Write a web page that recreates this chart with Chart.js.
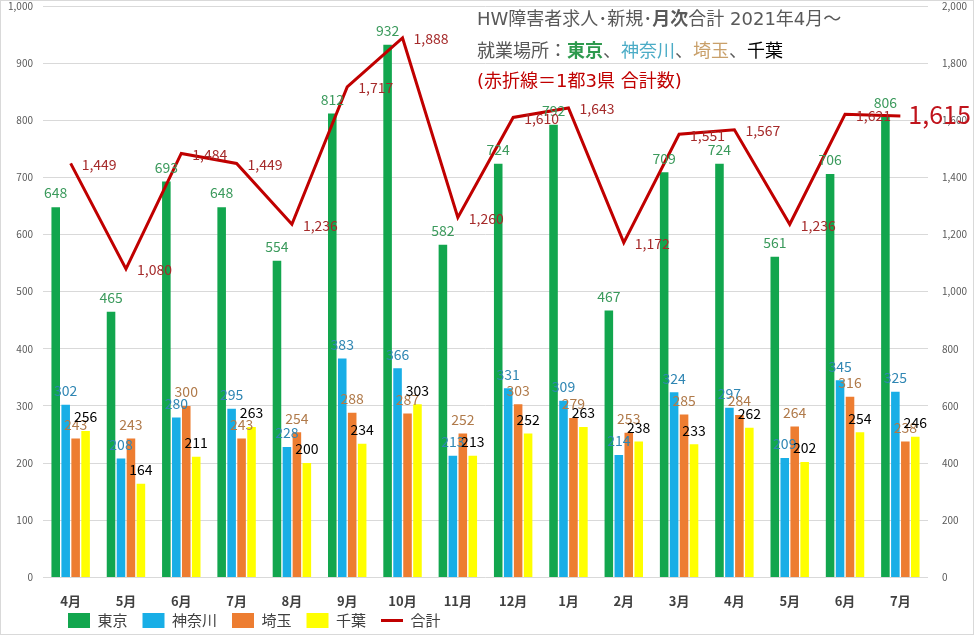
<!DOCTYPE html>
<html>
<head>
<meta charset="utf-8">
<script src="https://cdn.jsdelivr.net/npm/chart.js@4"></script>
<style>
html,body{margin:0;padding:0;background:#fff;}
#wrap{position:relative;width:974px;height:635px;}
canvas{display:block;}
</style>
</head>
<body>
<div id="wrap"><canvas id="c" width="974" height="635"></canvas></div>
<script>
const categories = ['4月','5月','6月','7月','8月','9月','10月','11月','12月','1月','2月','3月','4月','5月','6月','7月'];
const tokyo    = [648,465,693,648,554,812,932,582,724,792,467,709,724,561,706,806];
const kanagawa = [302,208,280,295,228,383,366,213,331,309,214,324,297,209,345,325];
const saitama  = [243,243,300,243,254,288,287,252,303,279,253,285,284,264,316,238];
const chiba    = [256,164,211,263,200,234,303,213,252,263,238,233,262,202,254,246];
const total    = [1449,1080,1484,1449,1236,1717,1888,1260,1610,1643,1172,1551,1567,1236,1621,1615];
const leftTicks = [0,100,200,300,400,500,600,700,800,900,1000];
const rightTicks = [0,200,400,600,800,1000,1200,1400,1600,1800,2000];

const FONT = "'Noto Sans CJK JP', 'Noto Sans', sans-serif";
const TFONT = "'DejaVu Sans', 'Noto Sans CJK JP', sans-serif";

const labelColors = ['#3b9a5c','#2f86b3','#b07a4a','#000000'];

const dataLabels = {
  id: 'dataLabels',
  afterDatasetsDraw(chart) {
    const ctx = chart.ctx;
    ctx.save();
    ctx.textBaseline = 'middle';
    chart.data.datasets.forEach((ds, di) => {
      const meta = chart.getDatasetMeta(di);
      if (meta.hidden) return;
      meta.data.forEach((el, i) => {
        const txt = ds.data[i].toLocaleString('en-US');
        if (ds.type === 'line') {
          const last = i === ds.data.length - 1;
          ctx.fillStyle = last ? '#c0141c' : '#a52a2a';
          ctx.font = (last ? '25px ' : '14px ') + FONT;
          ctx.textAlign = 'left';
          ctx.fillText(txt, el.x + (last ? 8 : 11), el.y + (last ? -1 : 1));
        } else {
          ctx.fillStyle = labelColors[di];
          ctx.font = '14px ' + FONT;
          ctx.textAlign = 'center';
          ctx.fillText(txt, el.x, el.y - 14);
        }
      });
    });
    ctx.restore();
  }
};

const titleBox = {
  id: 'titleBox',
  afterDraw(chart) {
    const ctx = chart.ctx;
    ctx.save();
    ctx.textBaseline = 'middle';
    ctx.textAlign = 'left';
    const size = 18;
    const drawRuns = (runs, x, y) => {
      runs.forEach(r => {
        ctx.font = (r.b ? 'bold ' : '') + size + 'px ' + TFONT;
        ctx.fillStyle = r.c;
        ctx.fillText(r.t, x, y);
        x += ctx.measureText(r.t).width;
      });
    };
    const g = '#595959';
    drawRuns([{t:'HW障害者求人･新規･',c:g},{t:'月次',c:g,b:true},{t:'合計 2021年4月～',c:g}], 477, 20);
    drawRuns([{t:'就業場所：',c:g},{t:'東京',c:'#2e9a4e',b:true},{t:'、',c:g},{t:'神奈川',c:'#4bacc6'},{t:'、',c:g},{t:'埼玉',c:'#c9a06a'},{t:'、',c:g},{t:'千葉',c:'#000000'}], 477, 52);
    drawRuns([{t:'(赤折線＝1都3県 合計数)',c:'#c00000'}], 477, 82);
    ctx.restore();
  }
};

const frame = {
  id: 'frame',
  beforeDraw(chart) {
    const ctx = chart.ctx;
    ctx.save();
    ctx.fillStyle = '#ffffff';
    ctx.fillRect(0, 0, chart.width, chart.height);
    ctx.strokeStyle = '#d9d9d9';
    ctx.lineWidth = 1;
    ctx.strokeRect(0.5, 0.5, chart.width - 1, chart.height - 1);
    ctx.restore();
  },
  afterLayout(chart) {
    const lg = chart.legend;
    if (lg) {
      const w = lg.right - lg.left;
      lg.left = 53; lg.right = 53 + w;
      lg.top = 598; lg.bottom = 635;
      lg.height = 37;
    }
  }
};

const barCommon = { categoryPercentage: 0.72, barPercentage: 0.86, borderWidth: 0, yAxisID: 'y', order: 2 };

new Chart(document.getElementById('c'), {
  type: 'bar',
  data: {
    labels: categories,
    datasets: [
      Object.assign({ label: '東京', data: tokyo, backgroundColor: '#12a64e', pointStyle: 'rect' }, barCommon),
      Object.assign({ label: '神奈川', data: kanagawa, backgroundColor: '#18aee6', pointStyle: 'rect' }, barCommon),
      Object.assign({ label: '埼玉', data: saitama, backgroundColor: '#ed7d31', pointStyle: 'rect' }, barCommon),
      Object.assign({ label: '千葉', data: chiba, backgroundColor: '#ffff00', pointStyle: 'rect' }, barCommon),
      { type: 'line', label: '合計', data: total, borderColor: '#c00000', backgroundColor: '#c00000', borderWidth: 3,
        pointRadius: 0, pointHoverRadius: 0, tension: 0, yAxisID: 'y1', order: 1, pointStyle: 'line' }
    ]
  },
  options: {
    responsive: false,
    animation: false,
    devicePixelRatio: 1,
    layout: { autoPadding: false, padding: { left: 0, right: 0, top: 6, bottom: 0 } },
    plugins: {
      legend: {
        position: 'bottom',
        align: 'start',
        maxHeight: 10,
        labels: {
          usePointStyle: true,
          pointStyleWidth: 22,
          boxHeight: 15,
          padding: 15,
          color: '#404040',
          font: { family: FONT, size: 15 },
          sort: (a, b) => a.datasetIndex - b.datasetIndex
        }
      },
      tooltip: { enabled: false }
    },
    scales: {
      x: {
        grid: { display: false, drawTicks: false },
        border: { display: false },
        ticks: { color: '#404040', font: { family: FONT, size: 13, weight: 'bold' }, padding: 16 }
      },
      y: {
        position: 'left',
        min: 0, max: 1000,
        afterBuildTicks(axis) { axis.ticks = leftTicks.map(v => ({ value: v })); },
        afterFit(axis) { axis.width = 43; axis.paddingTop = 0; },
        grid: { color: '#d9d9d9', drawTicks: false },
        border: { display: false },
        ticks: { color: '#595959', font: { family: FONT, size: 10 }, padding: 10,
          callback: v => v.toLocaleString('en-US') }
      },
      y1: {
        position: 'right',
        min: 0, max: 2000,
        afterBuildTicks(axis) { axis.ticks = rightTicks.map(v => ({ value: v })); },
        afterFit(axis) { axis.width = 46; axis.paddingTop = 0; },
        grid: { display: false, drawTicks: false },
        border: { display: false },
        ticks: { color: '#595959', font: { family: FONT, size: 10 }, padding: 14,
          callback: v => v.toLocaleString('en-US') }
      }
    }
  },
  plugins: [frame, dataLabels, titleBox]
});
</script>
</body>
</html>
